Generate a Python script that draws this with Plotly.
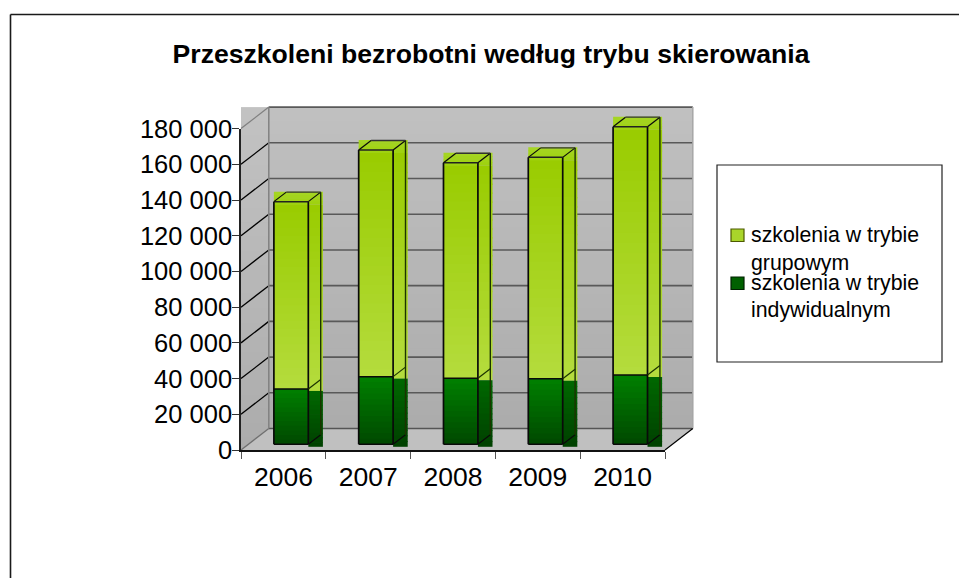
import plotly.graph_objects as go

years = ["2006", "2007", "2008", "2009", "2010"]
indywidualne = [31000, 37900, 37000, 36700, 38800]
grupowe = [104900, 126900, 120700, 124000, 139100]
y_ticks = [0, 20000, 40000, 60000, 80000, 100000, 120000, 140000, 160000, 180000]
y_labels = ["0", "20 000", "40 000", "60 000", "80 000", "100 000", "120 000", "140 000", "160 000", "180 000"]
title = "Przeszkoleni bezrobotni według trybu skierowania"
legend_lines = ["szkolenia w trybie", "grupowym", "szkolenia w trybie", "indywidualnym"]

W, H = 959, 578
FONT = "Liberation Sans"
X0, X1, Y0, Y1 = 241.0, 665.0, 450.0, 128.6      # front plane of the axes
CAT = (X1 - X0) / 5
PX_PER_UNIT = (Y0 - Y1) / 180000
WALL_DX, WALL_DY = 27.8, 21.5                    # depth of the box
BAR_DX, BAR_DY = 7.7, 5.7                        # bar front relative to axes
SIDE_DX, SIDE_DY = 12.4, 9.5                     # bar depth
HALF = 0.203
CAN = (230.0, 700.0, 460.0, 100.0)               # canvas pixels


def X(cat, dx=0.0):
    return cat + dx / CAT


def Y(val, dy=0.0):
    return val + dy / PX_PER_UNIT


def lerp(c1, c2, t):
    return "rgb(%d,%d,%d)" % tuple(round(a + (b - a) * t) for a, b in zip(c1, c2))


def rect(x0, x1, y0, y1, color, layer="below"):
    return dict(type="rect", xref="x", yref="y", x0=x0, x1=x1, y0=y0, y1=y1,
                fillcolor=color, line_width=0, layer=layer)


def seg(x0, y0, x1, y1, color="#000", width=1.5, layer="above"):
    return dict(type="line", xref="x", yref="y", x0=x0, y0=y0, x1=x1, y1=y1,
                line=dict(color=color, width=width), layer=layer)


def gradient(x0, x1, y_top, y_bot, c_top, c_bot, n=16, layer="below"):
    out = []
    for k in range(n):
        a = y_top + (y_bot - y_top) * k / n
        b = y_top + (y_bot - y_top) * (k + 1.15) / n
        if k == n - 1:
            b = y_bot
        out.append(rect(x0, x1, a, b, lerp(c_top, c_bot, (k + 0.5) / n), layer))
    return out


shapes = []
wall_lx, wall_rx = X(-0.5), X(4.5)
back_lx, back_rx = X(-0.5, WALL_DX), X(4.5, WALL_DX)
back_bot, back_top = Y(0, WALL_DY), Y(180000, WALL_DY)

# walls
shapes += gradient(X(-0.5), back_lx, back_top, Y(0, -2), (194, 194, 194), (172, 172, 172), 24)
shapes += gradient(back_lx, back_rx, back_top, back_bot, (192, 192, 192), (172, 172, 172), 24)
shapes.append(dict(type="path", xref="x", yref="y", layer="below", line_width=0, fillcolor="#c0c0c0",
                   path="M%f,%f L%f,%f L%f,%f L%f,%f Z" % (wall_lx, Y(0), wall_rx, Y(0), back_rx, back_bot, back_lx, back_bot)))
for t in y_ticks:
    c = "#808080" if t == 180000 else "#000000"
    shapes.append(seg(wall_lx, Y(t), back_lx, Y(t, WALL_DY), c if t not in (0,) else "#707070", 1.3, "below"))
    if t:
        shapes.append(seg(back_lx, Y(t, WALL_DY), back_rx, Y(t, WALL_DY), "#595959", 1.6, "below"))
shapes.append(seg(back_lx, back_bot, back_rx, back_bot, "#555555", 1.5, "below"))
shapes.append(seg(back_lx, back_bot, back_lx, back_top, "#808080", 1.5, "below"))
shapes.append(seg(back_rx, back_bot, back_rx, back_top, "#a6a6a6", 1.5, "below"))
shapes.append(seg(wall_rx, Y(0), back_rx, back_bot, "#000000", 1.2, "below"))

# bars: fills with gradients, then edges
LT, LB = (153, 204, 0), (181, 220, 62)
DT, DB = (0, 128, 0), (0, 72, 0)
ST, SB = (0, 104, 0), (0, 64, 0)
for i, (a, b) in enumerate(zip(indywidualne, grupowe)):
    total = a + b
    l = X(i - HALF, BAR_DX)
    r = X(i + HALF, BAR_DX)
    rb = X(i + HALF, BAR_DX + SIDE_DX)
    re = X(i + HALF, BAR_DX + SIDE_DX + 2.2)
    yf = lambda v, d=0.0: Y(v, BAR_DY + d)
    shapes += gradient(l, re, yf(total, 10), yf(total, -3), (166, 214, 38), (158, 209, 14), 4, "above")
    shapes += gradient(l, re, yf(total, -3), yf(a, -2), LT, LB, 24, "above")
    shapes += gradient(l, r, yf(a), yf(0), DT, DB, 12, "above")
    shapes += gradient(r, re, yf(a, -2), yf(0, -2.5), ST, SB, 12, "above")
    edge = "#0a0a0a"
    # front outline
    shapes.append(seg(l, yf(0), r, yf(0), edge))
    shapes.append(seg(l, yf(0), l, yf(total), edge, 1.7))
    shapes.append(seg(r, yf(0), r, yf(total), edge, 1.7))
    shapes.append(seg(l, yf(total), r, yf(total), "#222", 1.5))
    shapes.append(seg(l, yf(a), r, yf(a), edge, 1.5))
    # side
    shapes.append(seg(r, yf(0), rb, yf(0, SIDE_DY), edge, 1.2))
    shapes.append(seg(rb, yf(0, SIDE_DY), rb, yf(total, SIDE_DY), "#1c3300", 1.4))
    shapes.append(seg(r, yf(a), rb, yf(a, SIDE_DY), "#1c3300", 1.2))
    # cap
    shapes.append(seg(l, yf(total), X(i - HALF, BAR_DX + SIDE_DX), yf(total, SIDE_DY), edge, 1.2))
    shapes.append(seg(r, yf(total), rb, yf(total, SIDE_DY), edge, 1.2))
    shapes.append(seg(X(i - HALF, BAR_DX + SIDE_DX), yf(total, SIDE_DY), rb, yf(total, SIDE_DY), "#333", 1.4))


def paper_rect(x0, y0, x1, y1, fill, line="#000000", w=1.2, layer="above"):
    return dict(type="rect", xref="paper", yref="paper", x0=x0 / W, x1=x1 / W,
                y0=1 - y1 / H, y1=1 - y0 / H, fillcolor=fill, line=dict(color=line, width=w), layer=layer)


# outer frame (top and left only)
for x0, y0, x1, y1 in [(10.5, 14.5, W, 14.5), (10.5, 14.5, 10.5, H)]:
    shapes.append(dict(type="line", xref="paper", yref="paper", x0=x0 / W, x1=x1 / W, y0=1 - y0 / H, y1=1 - y1 / H,
                       line=dict(color="#1a1a1a", width=1.6), layer="below"))
# legend box and swatches
shapes.append(paper_rect(717, 165, 942, 362, "#ffffff", "#222222", 1.2))
shapes.append(paper_rect(731, 229, 744, 241.5, "#a9d52a", "#4d5a00", 1.2))
shapes.append(paper_rect(731, 277, 744, 289.5, "#006000", "#002000", 1.2))

annotations = []
for text, py in zip(legend_lines, [235, 263, 283, 310]):
    annotations.append(dict(text=text, xref="paper", yref="paper", x=751 / W, y=1 - py / H, xanchor="left",
                            yanchor="middle", showarrow=False, align="left", xshift=-1,
                            font=dict(family=FONT, size=21.3, color="#000"), borderpad=0))

fig = go.Figure()
fig.add_trace(go.Bar(x=years, y=indywidualne, name=legend_lines[2] + " " + legend_lines[3], xaxis="x2", yaxis="y2",
                     marker=dict(color="rgb(0,100,0)", line_width=0), hoverinfo="skip"))
fig.add_trace(go.Bar(x=years, y=grupowe, name=legend_lines[0] + " " + legend_lines[1], xaxis="x2", yaxis="y2",
                     marker=dict(color="rgb(167,212,31)", line_width=0), hoverinfo="skip"))
fig.add_trace(go.Scatter(x=years, y=[a + b for a, b in zip(indywidualne, grupowe)], xaxis="x3", yaxis="y3",
                         mode="markers", marker=dict(opacity=0), hoverinfo="skip"))


def dom(a, b, size):
    return [a / size, b / size]


fig.update_layout(
    template="none",
    width=W, height=H, autosize=False, showlegend=False, barmode="stack",
    bargap=1 - 2 * HALF, paper_bgcolor="#fff", plot_bgcolor="rgba(0,0,0,0)",
    margin=dict(l=0, r=0, t=0, b=0, pad=0),
    title=dict(text="<b>" + title + "</b>", x=491 / W, y=1 - 54 / H, xanchor="center", yanchor="middle",
               font=dict(family=FONT, size=26.6, color="#000")),
    # canvas axes for the box and 3D faces
    xaxis=dict(domain=dom(CAN[0], CAN[1], W), range=[-0.5 + (CAN[0] - X0) / CAT, -0.5 + (CAN[1] - X0) / CAT],
               visible=False, fixedrange=True, anchor="y", automargin=False),
    yaxis=dict(domain=dom(H - CAN[2], H - CAN[3], H), range=[(Y0 - CAN[2]) / PX_PER_UNIT, (Y0 - CAN[3]) / PX_PER_UNIT],
               visible=False, fixedrange=True, anchor="x", automargin=False),
    # axes of the bars' front plane
    xaxis2=dict(domain=dom(X0 + BAR_DX, X1 + BAR_DX, W), type="category", categoryorder="array", categoryarray=years,
                range=[-0.5, 4.5], visible=False, fixedrange=True, anchor="y2", automargin=False),
    yaxis2=dict(domain=dom(H - Y0 + BAR_DY, H - Y1 + BAR_DY, H), range=[0, 180000], visible=False,
                fixedrange=True, anchor="x2", automargin=False),
    # visible front axes
    xaxis3=dict(domain=dom(X0, X1, W), type="category", categoryorder="array", categoryarray=years, range=[-0.5, 4.5],
                ticks="outside", tickson="boundaries", ticklen=7, tickwidth=1.3, tickcolor="#555",
                showline=True, linecolor="#111", linewidth=1.6, showgrid=False, zeroline=False,
                tickfont=dict(family=FONT, size=26.5, color="#000"), fixedrange=True, anchor="y3", tickangle=0,
                automargin=False, ticklabelstandoff=2),
    yaxis3=dict(domain=dom(H - Y0, H - Y1, H), range=[0, 180000], tickmode="array", tickvals=y_ticks, ticktext=y_labels,
                ticks="outside", ticklen=7, tickwidth=1.3, tickcolor="#333",
                showline=True, linecolor="#222", linewidth=1.6, showgrid=False, zeroline=False,
                tickfont=dict(family=FONT, size=25.5, color="#000"), fixedrange=True, anchor="x3",
                automargin=False, ticklabelstandoff=-5),
    shapes=shapes, annotations=annotations,
)
fig.write_html("out.html", config={"displayModeBar": False, "responsive": False},
               post_script="document.body.style.margin='0';")
